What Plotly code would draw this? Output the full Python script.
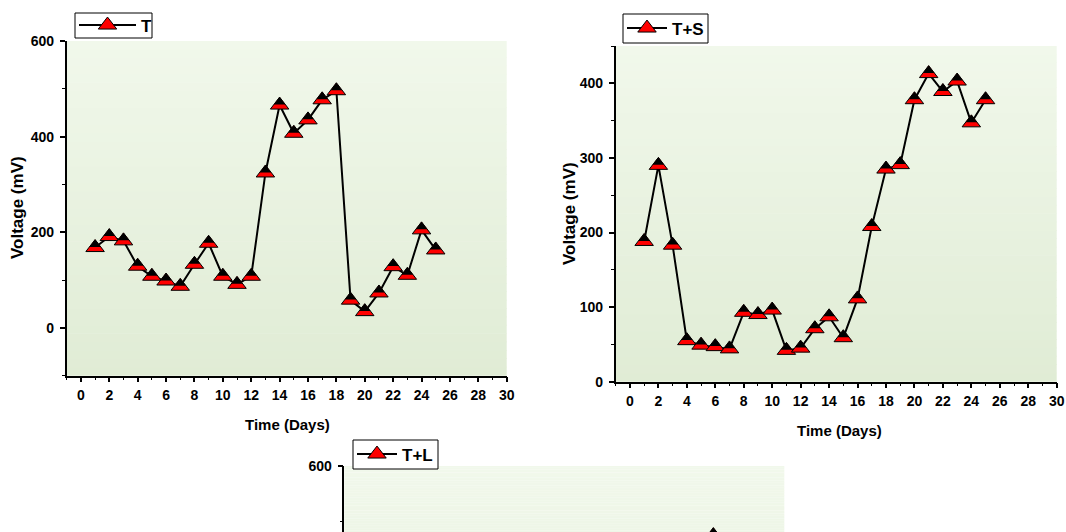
import plotly.graph_objects as go

# ---------------- data ----------------
days = list(range(1, 26))
T_mV = [168, 191, 182, 129, 108, 98, 87, 133, 177, 108, 91, 108, 324,
        466, 407, 435, 477, 496, 58, 34, 73, 128, 110, 205, 163]
TS_mV = [188, 290, 183, 55, 49, 47, 44, 93, 90, 96, 42, 45, 71,
         87, 59, 111, 208, 285, 291, 378, 413, 389, 403, 347, 378]
# only the last T+L point is visible in the cropped reference
TL_mV = [None] * 24 + [475]

x_title = "Time (Days)"
y_title = "Voltage (mV)"

# ---------------- layout / style ----------------
W, H = 1066, 532
FONT = "Liberation Sans, Arial, sans-serif"
MS = 16          # marker size
K = 0.62         # black part of the half-filled triangle

panels = [
    dict(name="T", y=T_mV, box=(66.7, 41, 506.7, 375.7), yr=(-100, 600), dt=200, mdt=100,
         legbox=(75, 13, 152, 38), iw=57, yt=(17, 208), xt=(287, 424)),
    dict(name="T+S", y=TS_mV, box=(615.7, 46, 1056.7, 381.7), yr=(0, 450), dt=100, mdt=50,
         legbox=(623, 14, 708, 43), iw=40, yt=(570, 214), xt=(839, 430)),
    dict(name="T+L", y=TL_mV, box=(344.3, 466, 784.3, 800), yr=(0, 600), dt=200, mdt=100,
         legbox=(353, 440, 438, 469), iw=40, yt=None, xt=None),
]

top_c = (241, 248, 235)
bot_c = (224, 236, 213)

fig = go.Figure()
shapes, annotations = [], []
layout = dict(width=W, height=H, margin=dict(l=0, r=0, t=0, b=0),
              paper_bgcolor="white", plot_bgcolor="rgba(0,0,0,0)", showlegend=True)

for i, p in enumerate(panels, start=1):
    sfx = "" if i == 1 else str(i)
    xa, ya = "x" + sfx, "y" + sfx
    leg = "legend" + sfx
    x0, y0, x1, y1 = p["box"]
    px_per_unit = (y1 - y0) / (p["yr"][1] - p["yr"][0])
    shift = (1 - K) * MS / 2 / px_per_unit
    vis_y1 = min(y1, H)                       # panel may run past the bottom edge
    cropped = y1 > H
    ymin = p["yr"][1] - (vis_y1 - y0) / px_per_unit
    vis_frac = (vis_y1 - y0) / (y1 - y0)

    fig.add_trace(go.Scatter(
        x=days, y=p["y"], mode="lines+markers", name=p["name"],
        xaxis=xa, yaxis=ya, legend=leg, connectgaps=False,
        line=dict(color="black", width=2),
        marker=dict(symbol="triangle-up", size=MS, color="red",
                    line=dict(color="black", width=1))))
    fig.add_trace(go.Scatter(
        x=days, y=[None if v is None else v + shift for v in p["y"]],
        mode="markers", showlegend=False, hoverinfo="skip",
        xaxis=xa, yaxis=ya,
        marker=dict(symbol="triangle-up", size=MS * K, color="black",
                    line=dict(width=0))))

    axis_common = dict(showline=True, linecolor="black", linewidth=1.5,
                       ticks="outside", ticklen=5, tickwidth=1.5, tickcolor="black",
                       showgrid=False, zeroline=False, automargin=False,
                       fixedrange=True,
                       tickfont=dict(family=FONT, size=14, color="black", weight="bold"))
    layout["xaxis" + sfx] = dict(
        axis_common, domain=[x0 / W, x1 / W], anchor=ya, range=[-1, 30],
        tick0=0, dtick=2, ticklabelstandoff=1,
        minor=dict(ticks="outside", ticklen=3, tickwidth=1, tickcolor="black", dtick=1, tick0=0))
    if cropped:
        layout["xaxis" + sfx].update(showline=False, ticks="", showticklabels=False,
                                      minor=dict(ticks=""))
    layout["yaxis" + sfx] = dict(
        axis_common, domain=[1 - vis_y1 / H, 1 - y0 / H], anchor=xa, range=[ymin, p["yr"][1]],
        tick0=0, dtick=p["dt"], ticklabelstandoff=3,
        minor=dict(ticks="outside", ticklen=3, tickwidth=1, tickcolor="black",
                   dtick=p["mdt"], tick0=0))

    bx0, by0, bx1, by1 = p["legbox"]
    layout[leg] = dict(x=(bx0 - 1) / W, y=1 - ((by0 + by1) / 2) / H, xanchor="left",
                       yanchor="middle", bgcolor="rgba(0,0,0,0)", borderwidth=0,
                       font=dict(family=FONT, size=17, color="black", weight="bold"),
                       itemwidth=p["iw"], tracegroupgap=0, itemclick=False,
                       itemdoubleclick=False)
    shapes.append(dict(type="rect", xref="paper", yref="paper",
                       x0=bx0 / W, x1=bx1 / W, y0=1 - by1 / H, y1=1 - by0 / H,
                       fillcolor="white", line=dict(color="black", width=1), layer="above"))

    # gradient background of the plot area
    n = 40
    for j in range(n):
        f = (j + 0.5) / n
        t = 1 - (1 - f) * vis_frac            # position within the full panel
        c = tuple(round(bot_c[k] + (top_c[k] - bot_c[k]) * t) for k in range(3))
        shapes.append(dict(type="rect", xref=xa + " domain", yref=ya + " domain",
                           x0=0, x1=1, y0=j / n, y1=min(1, (j + 1) / n + 0.002),
                           fillcolor="rgb(%d,%d,%d)" % c, line=dict(width=0), layer="below"))

    if p["yt"]:
        annotations.append(dict(text=y_title, xref="paper", yref="paper",
                                x=p["yt"][0] / W, y=1 - p["yt"][1] / H, textangle=-90,
                                showarrow=False, xanchor="center", yanchor="middle",
                                font=dict(family=FONT, size=17, color="black", weight="bold")))
    if p["xt"]:
        annotations.append(dict(text=x_title, xref="paper", yref="paper",
                                x=p["xt"][0] / W, y=1 - p["xt"][1] / H,
                                showarrow=False, xanchor="center", yanchor="middle",
                                font=dict(family=FONT, size=15, color="black", weight="bold")))

layout["shapes"] = shapes
layout["annotations"] = annotations
fig.update_layout(**layout)

fig.write_html(
    "out.html",
    config={"displayModeBar": False},
    post_script="document.documentElement.style.overflow='hidden';"
                "document.body.style.margin='0';document.body.style.overflow='hidden';")
